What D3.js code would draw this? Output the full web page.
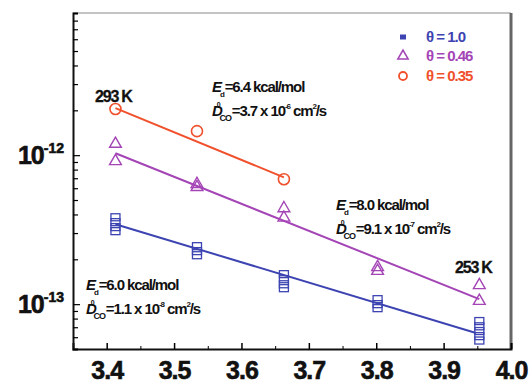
<!DOCTYPE html>
<html lang="en">
<head>
<meta charset="UTF-8">
<title>Diffusion Arrhenius</title>
<script src="https://cdn.jsdelivr.net/npm/d3@7"></script>
<style>
    body { margin: 0; background: #fff; }
    text { font-family: "Liberation Sans", Arial, sans-serif; font-weight: bold; }
</style>
</head>
<body>
<svg id="chart" width="531" height="388"></svg>
<script>
    // 1000/T columns
    var invT = [3.413, 3.534, 3.663, 3.802, 3.953];

    // theta = 1.0 (blue squares), several runs per temperature
    var blueX = [3.413, 3.413, 3.413, 3.413, 3.534, 3.534, 3.534, 3.663, 3.663, 3.663, 3.663, 3.802, 3.802, 3.802, 3.953, 3.953, 3.953, 3.953, 3.953];
    var blueY = [3.83e-13, 3.55e-13, 3.29e-13, 3.09e-13, 2.45e-13, 2.27e-13, 2.13e-13, 1.59e-13, 1.47e-13, 1.36e-13, 1.28e-13, 1.08e-13, 1.0e-13, 9.4e-14, 7.7e-14, 7.1e-14, 6.6e-14, 6.1e-14, 5.7e-14];
    // theta = 0.46 (purple triangles)
    var purpleX = [3.413, 3.413, 3.534, 3.534, 3.663, 3.663, 3.802, 3.802, 3.953, 3.953];
    var purpleY = [1.19e-12, 9.1e-13, 6.4e-13, 6.1e-13, 4.4e-13, 3.8e-13, 1.77e-13, 1.67e-13, 1.34e-13, 1.05e-13];
    // theta = 0.35 (red circles)
    var redX = [3.413, 3.534, 3.663];
    var redY = [2.04e-12, 1.45e-12, 6.9e-13];

    // Arrhenius fit lines (end points)
    var fitBlueX = [3.413, 3.948], fitBlueY = [3.44e-13, 6.4e-14];
    var fitPurpleX = [3.413, 3.953], fitPurpleY = [1.03e-12, 1.08e-13];
    var fitRedX = [3.413, 3.663], fitRedY = [2.07e-12, 7.1e-13];

    var legendLabels = ["\u03b8 = 1.0", "\u03b8 = 0.46", "\u03b8 = 0.35"];
    var xTickLabels = ["3.4", "3.5", "3.6", "3.7", "3.8", "3.9", "4.0"];

    var colors = {blue: "#3d44b2", purple: "#a444b6", red: "#f0502c"};

    var svg = d3.select("#chart");
    var mLeft = 73, mRight = 511, mTop = 13, mBottom = 349;

    var x = d3.scaleLinear().domain([3.35, 4.0]).range([mLeft, mRight]);
    var y = d3.scaleLog().domain([5e-14, 9e-12]).range([mBottom, mTop]);

    // frame
    svg.append("line").attr("x1", mLeft).attr("x2", mRight).attr("y1", mTop).attr("y2", mTop)
        .attr("stroke", "#888").attr("stroke-width", 1);
    svg.append("line").attr("x1", mRight).attr("x2", mRight).attr("y1", mTop).attr("y2", mBottom)
        .attr("stroke", "#666").attr("stroke-width", 3);

    // x axis, ticks pointing inward
    var xMajor = xTickLabels.map(Number);
    var xAxis = svg.append("g").attr("transform", "translate(0," + mBottom + ")")
        .call(d3.axisBottom(x).tickValues(xMajor).tickSize(-6).tickPadding(12)
            .tickFormat(function (d, i) { return xTickLabels[i]; }));
    xAxis.select(".domain").attr("stroke-width", 2).attr("stroke", "#111");
    xAxis.selectAll(".tick line").attr("stroke-width", 1.5);
    xAxis.selectAll("text").attr("font-size", 25).attr("fill", "#111").attr("letter-spacing", -1)
        .attr("stroke", "#111").attr("stroke-width", 0.6);
    var xMinor = d3.range(3.45, 4.0, 0.1);
    svg.append("g").attr("transform", "translate(0," + mBottom + ")")
        .call(d3.axisBottom(x).tickValues(xMinor).tickSize(-3).tickFormat(""))
        .select(".domain").remove();

    // y axis (log), ticks pointing inward
    var yTicks = y.ticks().filter(function (d) { return d >= 5e-14 && d <= 9e-12; });
    var yAxis = svg.append("g").attr("transform", "translate(" + mLeft + ",0)")
        .call(d3.axisLeft(y).tickValues(yTicks).tickSize(-5).tickFormat(""));
    yAxis.select(".domain").attr("stroke-width", 2).attr("stroke", "#111");
    yAxis.selectAll(".tick line").attr("stroke-width", 1.2)
        .attr("x2", function (d) { return Math.abs(Math.log10(d) - Math.round(Math.log10(d))) < 1e-6 ? 7 : 5; });

    var decades = [1e-12, 1e-13];
    decades.forEach(function (d) {
        var t = svg.append("text").attr("x", 64).attr("y", y(d) + 9)
            .attr("text-anchor", "end").attr("fill", "#111")
            .attr("stroke", "#111").attr("stroke-width", 0.6);
        t.append("tspan").attr("font-size", 25).attr("letter-spacing", -1).text("10");
        t.append("tspan").attr("font-size", 14).attr("dy", -11).text("-" + Math.round(-Math.log10(d)));
    });

    // fit lines
    var line = d3.line().x(function (d) { return x(d[0]); }).y(function (d) { return y(d[1]); });
    [[fitBlueX, fitBlueY, colors.blue], [fitPurpleX, fitPurpleY, colors.purple], [fitRedX, fitRedY, colors.red]]
        .forEach(function (f) {
            svg.append("path").datum(d3.zip(f[0], f[1])).attr("d", line)
                .attr("fill", "none").attr("stroke", f[2]).attr("stroke-width", 2);
        });

    // markers
    svg.append("g").selectAll("rect").data(d3.zip(blueX, blueY)).enter().append("rect")
        .attr("x", function (d) { return x(d[0]) - 4.5; })
        .attr("y", function (d) { return y(d[1]) - 3.5; })
        .attr("width", 9).attr("height", 7)
        .attr("fill", "none").attr("stroke", colors.blue).attr("stroke-width", 1.3);

    var tri = d3.symbol().type(d3.symbolTriangle).size(60);
    svg.append("g").selectAll("path").data(d3.zip(purpleX, purpleY)).enter().append("path")
        .attr("d", tri)
        .attr("transform", function (d) { return "translate(" + x(d[0]) + "," + y(d[1]) + ")"; })
        .attr("fill", "none").attr("stroke", colors.purple).attr("stroke-width", 1.4);

    svg.append("g").selectAll("circle").data(d3.zip(redX, redY)).enter().append("circle")
        .attr("cx", function (d) { return x(d[0]); })
        .attr("cy", function (d) { return y(d[1]); })
        .attr("r", 5.5)
        .attr("fill", "none").attr("stroke", colors.red).attr("stroke-width", 1.6);

    // legend
    var legColors = [colors.blue, colors.purple, colors.red];
    var legY = [37, 56, 76];
    legendLabels.forEach(function (lab, i) {
        var cy = legY[i];
        if (i === 0) {
            svg.append("rect").attr("x", 400).attr("y", cy - 2.5).attr("width", 6).attr("height", 5)
                .attr("fill", legColors[i]);
        } else if (i === 1) {
            svg.append("path").attr("d", d3.symbol().type(d3.symbolTriangle).size(45))
                .attr("transform", "translate(403," + cy + ")")
                .attr("fill", "none").attr("stroke", legColors[i]).attr("stroke-width", 1.6);
        } else {
            svg.append("circle").attr("cx", 403).attr("cy", cy).attr("r", 4)
                .attr("fill", "none").attr("stroke", legColors[i]).attr("stroke-width", 1.8);
        }
        svg.append("text").attr("x", 426).attr("y", cy + 5).attr("font-size", 15)
            .attr("letter-spacing", -1).attr("fill", legColors[i]).text(lab);
    });

    // temperature labels
    svg.append("text").attr("x", 95).attr("y", 102).attr("font-size", 16)
        .attr("letter-spacing", -1.2).attr("fill", "#111").attr("stroke", "#111").attr("stroke-width", 0.3).text("293 K");
    svg.append("text").attr("x", 455).attr("y", 273).attr("font-size", 16)
        .attr("letter-spacing", -1.2).attr("fill", "#111").attr("stroke", "#111").attr("stroke-width", 0.3).text("253 K");

    // activation energy annotations
    var notes = [
        {x: 212, y: 92, e: "6.4", d: "3.7", p: "-6"},
        {x: 336, y: 210, e: "8.0", d: "9.1", p: "-7"},
        {x: 86, y: 290, e: "6.0", d: "1.1", p: "-8"}
    ];
    notes.forEach(function (n) {
        var t1 = svg.append("text").attr("x", n.x).attr("y", n.y).attr("font-size", 15)
            .attr("letter-spacing", -1.1).attr("fill", "#111");
        t1.append("tspan").attr("font-style", "italic").text("E");
        t1.append("tspan").attr("font-size", 8).attr("dy", 5).attr("dx", -1).text("d");
        t1.append("tspan").attr("dy", -5).attr("dx", 1).text("=" + n.e + " kcal/mol");

        var t2 = svg.append("text").attr("x", n.x).attr("y", n.y + 24).attr("font-size", 15)
            .attr("letter-spacing", -1.1).attr("fill", "#111");
        t2.append("tspan").attr("font-style", "italic").text("D");
        t2.append("tspan").attr("font-size", 7).attr("dy", -9).attr("dx", -5).text("0");
        t2.append("tspan").attr("font-size", 9).attr("dy", 14).attr("dx", 0).text("CO");
        t2.append("tspan").attr("dy", -5).attr("dx", 1).text("=" + n.d + " x 10");
        t2.append("tspan").attr("font-size", 8).attr("dy", -7).text(n.p);
        t2.append("tspan").attr("dy", 7).text(" cm");
        t2.append("tspan").attr("font-size", 8).attr("dy", -7).text("2");
        t2.append("tspan").attr("dy", 7).text("/s");
    });
</script>
</body>
</html>
